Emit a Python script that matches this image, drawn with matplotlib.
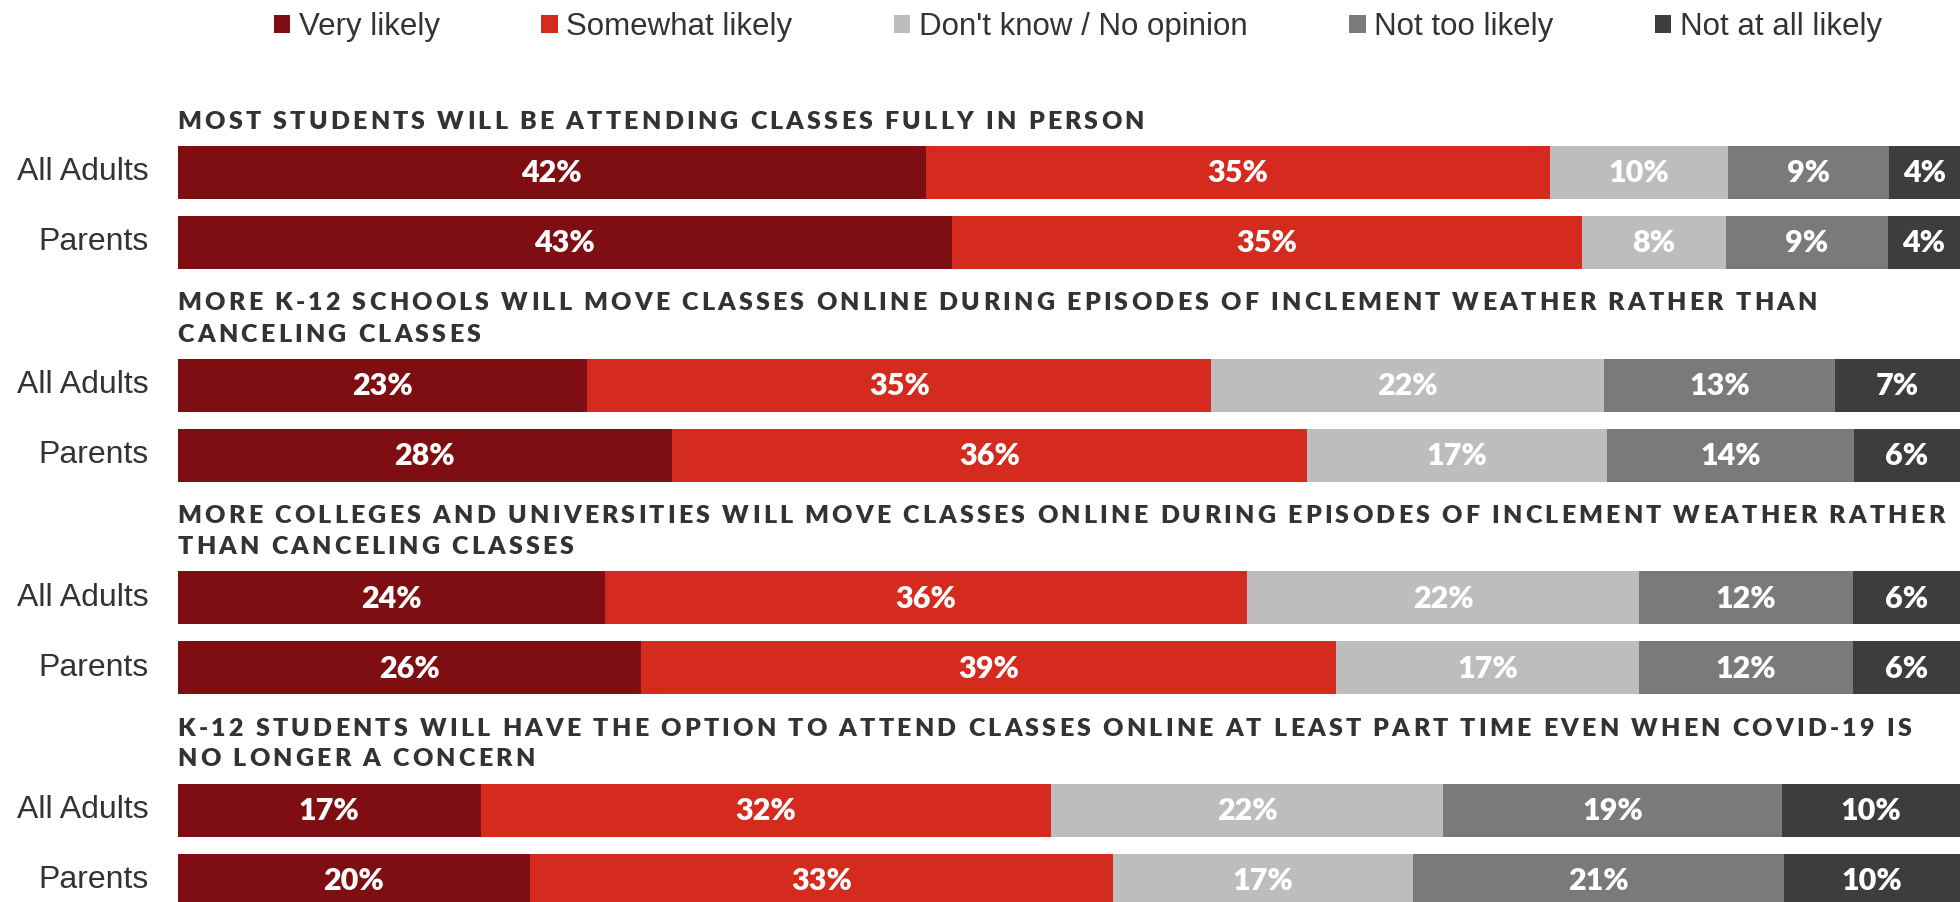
import matplotlib
matplotlib.use("Agg")
import matplotlib.pyplot as plt
from matplotlib.patches import Patch
from matplotlib.transforms import offset_copy
from matplotlib.textpath import TextToPath
from matplotlib.font_manager import FontProperties
import numpy as np

# --- data ---
categories = ["Very likely", "Somewhat likely", "Don't know / No opinion",
              "Not too likely", "Not at all likely"]
colors = ["#7e0e12", "#d52b1e", "#bdbdbd", "#7a7a7a", "#3d3d3d"]
groups = ["All Adults", "Parents"]

titles = [
    ["MOST STUDENTS WILL BE ATTENDING CLASSES FULLY IN PERSON"],
    ["MORE K-12 SCHOOLS WILL MOVE CLASSES ONLINE DURING EPISODES OF INCLEMENT WEATHER RATHER THAN",
     "CANCELING CLASSES"],
    ["MORE COLLEGES AND UNIVERSITIES WILL MOVE CLASSES ONLINE DURING EPISODES OF INCLEMENT WEATHER RATHER",
     "THAN CANCELING CLASSES"],
    ["K-12 STUDENTS WILL HAVE THE OPTION TO ATTEND CLASSES ONLINE AT LEAST PART TIME EVEN WHEN COVID-19 IS",
     "NO LONGER A CONCERN"],
]

# rows: [question] -> values per category (%)
all_adults = [
    [42, 35, 10, 9, 4],
    [23, 35, 22, 13, 7],
    [24, 36, 22, 12, 6],
    [17, 32, 22, 19, 10],
]
parents = [
    [43, 35, 8, 9, 4],
    [28, 36, 17, 14, 6],
    [26, 39, 17, 12, 6],
    [20, 33, 17, 21, 10],
]

# --- layout (pixels, dpi=100) ---
W, H, DPI = 1960, 902, 100
BAR_LEFT = 177.5
FIRST_TOP = 146
GROUP_STEP = 212.5
ROW_STEP = 70
BAR_H = 53
TITLE_GAP = 24
TITLE_LINE = 31
TRACK = 3.2

TEXT_COL = "#333333"
TITLE_FONT = FontProperties(family=["Lato", "DejaVu Sans"], weight="heavy", size=18.0)
LABEL_FONT = ["Liberation Sans", "DejaVu Sans"]
VALUE_FONT = ["Lato", "DejaVu Sans"]

fig = plt.figure(figsize=(W / DPI, H / DPI), dpi=DPI)
ax = fig.add_axes([0, 0, 1, 1])
ax.set_xlim(-BAR_LEFT / (W - BAR_LEFT), 1)
ax.set_ylim(H, 0)
ax.axis("off")

ttp = TextToPath()


def text_w(s):
    w, _, _ = ttp.get_text_width_height_descent(s + "|", TITLE_FONT, ismath=False)
    w0, _, _ = ttp.get_text_width_height_descent("|", TITLE_FONT, ismath=False)
    return (w - w0) * DPI / 72


def tracked_text(line, y):
    # letter-spaced title, one glyph at a time
    for i, ch in enumerate(line):
        if ch == " ":
            continue
        dx = text_w(line[:i]) + i * TRACK
        tr = offset_copy(ax.transData, fig=fig, x=dx, y=0, units="dots")
        ax.text(0, y, ch, transform=tr, fontproperties=TITLE_FONT,
                color=TEXT_COL, ha="left", va="center")


for q in range(len(titles)):
    top = FIRST_TOP + q * GROUP_STEP
    lines = titles[q]
    for k, line in enumerate(lines):
        y = top - TITLE_GAP - (len(lines) - 1 - k) * TITLE_LINE
        tracked_text(line, y)

    for r, vals in enumerate([all_adults[q], parents[q]]):
        vals = np.array(vals, dtype=float)
        share = vals / vals.sum()
        yc = top + r * ROW_STEP + BAR_H / 2
        left = 0.0
        for c, (v, s) in enumerate(zip(vals, share)):
            ax.barh(yc, s, left=left, height=BAR_H, color=colors[c], edgecolor="none")
            ax.text(left + s / 2, yc + 1, f"{int(v)}%", ha="center", va="center",
                    color="white", fontsize=22, fontweight="heavy", family=VALUE_FONT)
            left += s
        tr = offset_copy(ax.transData, fig=fig, x=-29, y=0, units="dots")
        ax.text(0, yc, groups[r], transform=tr, ha="right", va="center",
                fontsize=23, color=TEXT_COL, family=LABEL_FONT)

handles = [Patch(facecolor=col, edgecolor="none", label=lab)
           for col, lab in zip(colors, categories)]
fig.legend(handles=handles, loc="center", ncol=5, frameon=False,
           bbox_to_anchor=(1078 / W, 1 - 27 / H),
           prop={"family": LABEL_FONT, "size": 22.5},
           handlelength=0.52, handleheight=0.52, handletextpad=0.28,
           columnspacing=3.25, labelcolor=TEXT_COL, borderaxespad=0, borderpad=0)

fig.savefig("out.png", dpi=DPI)
